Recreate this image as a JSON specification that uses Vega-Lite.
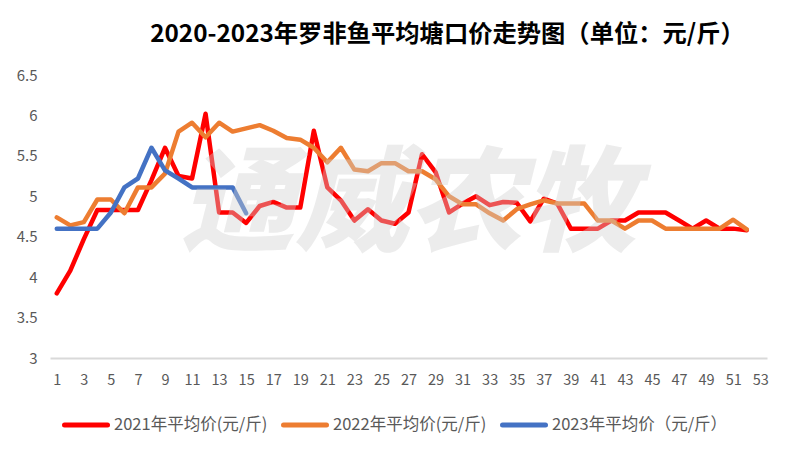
{
  "$schema": "https://vega.github.io/schema/vega-lite/v6.json",
  "width": 717,
  "height": 283,
  "autosize": {"type": "none"},
  "padding": {"left": 50, "top": 75, "right": 24, "bottom": 95},
  "background": "white",
  "config": {"view": {"stroke": null}, "font": "Noto Sans CJK SC"},
  "title": {
    "text": "2020-2023年罗非鱼平均塘口价走势图（单位：元/斤）",
    "fontSize": 24.3,
    "fontWeight": "bold",
    "color": "#000000",
    "anchor": "middle",
    "frame": "group",
    "dx": 39,
    "offset": 21,
    "font": "Noto Sans CJK SC"
  },
  "data": {
    "values": [
      {"series": "2021年平均价(元/斤)", "week": 1, "price": 3.8},
      {"series": "2021年平均价(元/斤)", "week": 2, "price": 4.08},
      {"series": "2021年平均价(元/斤)", "week": 3, "price": 4.47},
      {"series": "2021年平均价(元/斤)", "week": 4, "price": 4.83},
      {"series": "2021年平均价(元/斤)", "week": 5, "price": 4.83},
      {"series": "2021年平均价(元/斤)", "week": 6, "price": 4.83},
      {"series": "2021年平均价(元/斤)", "week": 7, "price": 4.83},
      {"series": "2021年平均价(元/斤)", "week": 8, "price": 5.2},
      {"series": "2021年平均价(元/斤)", "week": 9, "price": 5.6},
      {"series": "2021年平均价(元/斤)", "week": 10, "price": 5.25},
      {"series": "2021年平均价(元/斤)", "week": 11, "price": 5.22},
      {"series": "2021年平均价(元/斤)", "week": 12, "price": 6.02},
      {"series": "2021年平均价(元/斤)", "week": 13, "price": 4.8},
      {"series": "2021年平均价(元/斤)", "week": 14, "price": 4.8},
      {"series": "2021年平均价(元/斤)", "week": 15, "price": 4.67},
      {"series": "2021年平均价(元/斤)", "week": 16, "price": 4.88},
      {"series": "2021年平均价(元/斤)", "week": 17, "price": 4.93},
      {"series": "2021年平均价(元/斤)", "week": 18, "price": 4.86},
      {"series": "2021年平均价(元/斤)", "week": 19, "price": 4.86},
      {"series": "2021年平均价(元/斤)", "week": 20, "price": 5.81},
      {"series": "2021年平均价(元/斤)", "week": 21, "price": 5.11},
      {"series": "2021年平均价(元/斤)", "week": 22, "price": 4.95},
      {"series": "2021年平均价(元/斤)", "week": 23, "price": 4.7},
      {"series": "2021年平均价(元/斤)", "week": 24, "price": 4.84},
      {"series": "2021年平均价(元/斤)", "week": 25, "price": 4.7},
      {"series": "2021年平均价(元/斤)", "week": 26, "price": 4.66},
      {"series": "2021年平均价(元/斤)", "week": 27, "price": 4.8},
      {"series": "2021年平均价(元/斤)", "week": 28, "price": 5.52},
      {"series": "2021年平均价(元/斤)", "week": 29, "price": 5.3},
      {"series": "2021年平均价(元/斤)", "week": 30, "price": 4.8},
      {"series": "2021年平均价(元/斤)", "week": 31, "price": 4.91},
      {"series": "2021年平均价(元/斤)", "week": 32, "price": 5.0},
      {"series": "2021年平均价(元/斤)", "week": 33, "price": 4.89},
      {"series": "2021年平均价(元/斤)", "week": 34, "price": 4.93},
      {"series": "2021年平均价(元/斤)", "week": 35, "price": 4.92},
      {"series": "2021年平均价(元/斤)", "week": 36, "price": 4.69},
      {"series": "2021年平均价(元/斤)", "week": 37, "price": 4.97},
      {"series": "2021年平均价(元/斤)", "week": 38, "price": 4.91},
      {"series": "2021年平均价(元/斤)", "week": 39, "price": 4.6},
      {"series": "2021年平均价(元/斤)", "week": 40, "price": 4.6},
      {"series": "2021年平均价(元/斤)", "week": 41, "price": 4.6},
      {"series": "2021年平均价(元/斤)", "week": 42, "price": 4.7},
      {"series": "2021年平均价(元/斤)", "week": 43, "price": 4.7},
      {"series": "2021年平均价(元/斤)", "week": 44, "price": 4.8},
      {"series": "2021年平均价(元/斤)", "week": 45, "price": 4.8},
      {"series": "2021年平均价(元/斤)", "week": 46, "price": 4.8},
      {"series": "2021年平均价(元/斤)", "week": 47, "price": 4.7},
      {"series": "2021年平均价(元/斤)", "week": 48, "price": 4.6},
      {"series": "2021年平均价(元/斤)", "week": 49, "price": 4.7},
      {"series": "2021年平均价(元/斤)", "week": 50, "price": 4.6},
      {"series": "2021年平均价(元/斤)", "week": 51, "price": 4.6},
      {"series": "2021年平均价(元/斤)", "week": 52, "price": 4.58},
      {"series": "2022年平均价(元/斤)", "week": 1, "price": 4.74},
      {"series": "2022年平均价(元/斤)", "week": 2, "price": 4.64},
      {"series": "2022年平均价(元/斤)", "week": 3, "price": 4.68},
      {"series": "2022年平均价(元/斤)", "week": 4, "price": 4.96},
      {"series": "2022年平均价(元/斤)", "week": 5, "price": 4.96},
      {"series": "2022年平均价(元/斤)", "week": 6, "price": 4.79},
      {"series": "2022年平均价(元/斤)", "week": 7, "price": 5.11},
      {"series": "2022年平均价(元/斤)", "week": 8, "price": 5.11},
      {"series": "2022年平均价(元/斤)", "week": 9, "price": 5.28},
      {"series": "2022年平均价(元/斤)", "week": 10, "price": 5.8},
      {"series": "2022年平均价(元/斤)", "week": 11, "price": 5.91},
      {"series": "2022年平均价(元/斤)", "week": 12, "price": 5.73},
      {"series": "2022年平均价(元/斤)", "week": 13, "price": 5.91},
      {"series": "2022年平均价(元/斤)", "week": 14, "price": 5.8},
      {"series": "2022年平均价(元/斤)", "week": 15, "price": 5.84},
      {"series": "2022年平均价(元/斤)", "week": 16, "price": 5.88},
      {"series": "2022年平均价(元/斤)", "week": 17, "price": 5.81},
      {"series": "2022年平均价(元/斤)", "week": 18, "price": 5.72},
      {"series": "2022年平均价(元/斤)", "week": 19, "price": 5.7},
      {"series": "2022年平均价(元/斤)", "week": 20, "price": 5.6},
      {"series": "2022年平均价(元/斤)", "week": 21, "price": 5.42},
      {"series": "2022年平均价(元/斤)", "week": 22, "price": 5.6},
      {"series": "2022年平均价(元/斤)", "week": 23, "price": 5.33},
      {"series": "2022年平均价(元/斤)", "week": 24, "price": 5.31},
      {"series": "2022年平均价(元/斤)", "week": 25, "price": 5.41},
      {"series": "2022年平均价(元/斤)", "week": 26, "price": 5.41},
      {"series": "2022年平均价(元/斤)", "week": 27, "price": 5.31},
      {"series": "2022年平均价(元/斤)", "week": 28, "price": 5.31},
      {"series": "2022年平均价(元/斤)", "week": 29, "price": 5.21},
      {"series": "2022年平均价(元/斤)", "week": 30, "price": 5.0},
      {"series": "2022年平均价(元/斤)", "week": 31, "price": 4.9},
      {"series": "2022年平均价(元/斤)", "week": 32, "price": 4.9},
      {"series": "2022年平均价(元/斤)", "week": 33, "price": 4.79},
      {"series": "2022年平均价(元/斤)", "week": 34, "price": 4.7},
      {"series": "2022年平均价(元/斤)", "week": 35, "price": 4.84},
      {"series": "2022年平均价(元/斤)", "week": 36, "price": 4.9},
      {"series": "2022年平均价(元/斤)", "week": 37, "price": 4.95},
      {"series": "2022年平均价(元/斤)", "week": 38, "price": 4.91},
      {"series": "2022年平均价(元/斤)", "week": 39, "price": 4.91},
      {"series": "2022年平均价(元/斤)", "week": 40, "price": 4.91},
      {"series": "2022年平均价(元/斤)", "week": 41, "price": 4.7},
      {"series": "2022年平均价(元/斤)", "week": 42, "price": 4.7},
      {"series": "2022年平均价(元/斤)", "week": 43, "price": 4.6},
      {"series": "2022年平均价(元/斤)", "week": 44, "price": 4.7},
      {"series": "2022年平均价(元/斤)", "week": 45, "price": 4.7},
      {"series": "2022年平均价(元/斤)", "week": 46, "price": 4.6},
      {"series": "2022年平均价(元/斤)", "week": 47, "price": 4.6},
      {"series": "2022年平均价(元/斤)", "week": 48, "price": 4.6},
      {"series": "2022年平均价(元/斤)", "week": 49, "price": 4.6},
      {"series": "2022年平均价(元/斤)", "week": 50, "price": 4.6},
      {"series": "2022年平均价(元/斤)", "week": 51, "price": 4.71},
      {"series": "2022年平均价(元/斤)", "week": 52, "price": 4.59},
      {"series": "2023年平均价（元/斤）", "week": 1, "price": 4.6},
      {"series": "2023年平均价（元/斤）", "week": 2, "price": 4.6},
      {"series": "2023年平均价（元/斤）", "week": 3, "price": 4.6},
      {"series": "2023年平均价（元/斤）", "week": 4, "price": 4.6},
      {"series": "2023年平均价（元/斤）", "week": 5, "price": 4.8},
      {"series": "2023年平均价（元/斤）", "week": 6, "price": 5.11},
      {"series": "2023年平均价（元/斤）", "week": 7, "price": 5.22},
      {"series": "2023年平均价（元/斤）", "week": 8, "price": 5.6},
      {"series": "2023年平均价（元/斤）", "week": 9, "price": 5.32},
      {"series": "2023年平均价（元/斤）", "week": 10, "price": 5.22},
      {"series": "2023年平均价（元/斤）", "week": 11, "price": 5.11},
      {"series": "2023年平均价（元/斤）", "week": 12, "price": 5.11},
      {"series": "2023年平均价（元/斤）", "week": 13, "price": 5.11},
      {"series": "2023年平均价（元/斤）", "week": 14, "price": 5.11},
      {"series": "2023年平均价（元/斤）", "week": 15, "price": 4.79}
    ]
  },
  "layer": [
    {
      "mark": {"type": "line", "strokeWidth": 4.5, "strokeJoin": "round", "strokeCap": "round"},
      "encoding": {
        "x": {
          "field": "week",
          "type": "ordinal",
          "sort": null,
          "scale": {
            "type": "point",
            "padding": 0.5,
            "domain": [1, 2, 3, 4, 5, 6, 7, 8, 9, 10, 11, 12, 13, 14, 15, 16, 17, 18, 19, 20, 21, 22, 23, 24, 25, 26, 27, 28, 29, 30, 31, 32, 33, 34, 35, 36, 37, 38, 39, 40, 41, 42, 43, 44, 45, 46, 47, 48, 49, 50, 51, 52, 53]
          },
          "axis": {
            "values": [1, 3, 5, 7, 9, 11, 13, 15, 17, 19, 21, 23, 25, 27, 29, 31, 33, 35, 37, 39, 41, 43, 45, 47, 49, 51, 53],
            "title": null,
            "grid": false,
            "ticks": false,
            "labelAngle": 0,
            "domainColor": "#d9d9d9",
            "domainWidth": 2,
            "labelFontSize": 14.5,
            "labelColor": "#595959",
            "labelPadding": 15,
            "labelOverlap": false,
            "labelFont": "Noto Sans CJK SC"
          }
        },
        "y": {
          "field": "price",
          "type": "quantitative",
          "scale": {"domain": [3, 6.5], "nice": false, "zero": false},
          "axis": {
            "values": [3, 3.5, 4, 4.5, 5, 5.5, 6, 6.5],
            "format": "~g",
            "title": null,
            "grid": false,
            "ticks": false,
            "domain": false,
            "labelFontSize": 15,
            "labelColor": "#595959",
            "labelPadding": 13,
            "labelOverlap": false,
            "labelFont": "Noto Sans CJK SC"
          }
        },
        "color": {
          "field": "series",
          "type": "nominal",
          "scale": {
            "domain": ["2021年平均价(元/斤)", "2022年平均价(元/斤)", "2023年平均价（元/斤）"],
            "range": ["#ff0000", "#ed7d31", "#4472c4"]
          },
          "legend": {
            "orient": "none",
            "legendX": 12,
            "legendY": 326,
            "direction": "horizontal",
            "title": null,
            "symbolType": "stroke",
            "symbolSize": 1849,
            "symbolStrokeWidth": 5,
            "labelFontSize": 16.5,
            "labelColor": "#595959",
            "labelFont": "Noto Sans CJK SC",
            "labelOffset": 4,
            "columnPadding": 5,
            "labelLimit": 300,
            "encode": {"symbols": {"update": {"strokeCap": {"value": "round"}}}}
          }
        }
      }
    },
    {
      "data": {"values": [{}]},
      "mark": {"type": "text", "text": "通威农牧", "fontSize": 114, "fontWeight": 900, "fontStyle": "italic", "font": "Noto Sans CJK SC", "color": "#d0d0d0", "opacity": 0.4},
      "encoding": {
        "x": {"datum": 27, "type": "ordinal"},
        "y": {"datum": 4.86, "type": "quantitative"}
      }
    }
  ]
}
